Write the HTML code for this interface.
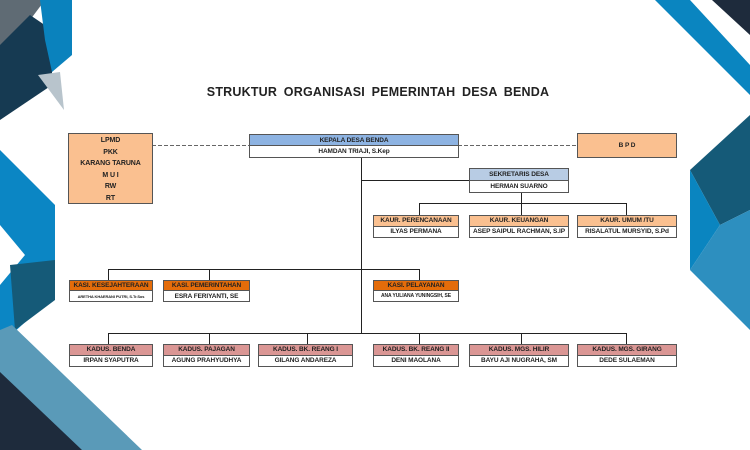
<!DOCTYPE html>
<html><head><meta charset="utf-8"><style>
*{margin:0;padding:0;box-sizing:border-box}
body{width:750px;height:450px;overflow:hidden;background:#fff;position:relative;font-family:"Liberation Sans",sans-serif}
svg{position:absolute;left:0;top:0}
.b{position:absolute;border:1px solid #555;font-weight:bold;font-size:6.5px;color:#222;text-align:center;letter-spacing:-0.1px}
.b div{height:50%;display:flex;align-items:center;justify-content:center;white-space:nowrap;overflow:hidden}
.b div:first-child{border-bottom:1px solid #555}
.t{position:absolute;left:150px;width:456px;top:85px;text-align:center;font-weight:bold;font-size:12.5px;color:#222;word-spacing:3px;letter-spacing:0.2px}
</style></head><body>
<svg width="750" height="450">
<!-- top-left -->
<polygon points="0,0 45,0 0,60" fill="#5f6b74"/>
<polygon points="0,45 30,15 52,30 52,85 0,120" fill="#163a52"/>
<polygon points="40,0 72,0 72,55 52,72 45,40" fill="#0a82bd"/>
<polygon points="38,75 60,72 64,110" fill="#b8c4cc"/>
<!-- left mid -->
<polygon points="0,150 55,205 55,295 0,345" fill="#0b86c4"/>
<polygon points="0,225 25,255 0,285" fill="#fff"/>
<polygon points="10,265 55,260 55,300 15,330" fill="#155a78"/>
<!-- bottom-left -->
<polygon points="0,330 12,325 142,450 80,450 0,378" fill="#5a9ab8"/>
<polygon points="0,372 0,450 82,450" fill="#1e2b3c"/>
<!-- top-right -->
<polygon points="655,0 690,0 750,65 750,95" fill="#0a85c0"/>
<polygon points="712,0 750,0 750,35" fill="#1e2b3c"/>
<!-- right mid -->
<polygon points="690,170 750,115 750,210 720,225" fill="#155a78"/>
<polygon points="690,170 720,225 690,270" fill="#0a85c0"/>
<polygon points="720,225 750,210 750,330 690,270" fill="#2d8fbf"/>
<!-- lines -->
<g stroke="#666" stroke-width="1" stroke-dasharray="4,2">
<line x1="152" y1="145.5" x2="249" y2="145.5"/><line x1="458" y1="145.5" x2="577" y2="145.5"/>
</g>
<g stroke="#222" stroke-width="1" fill="none">
<line x1="361.5" y1="157" x2="361.5" y2="333"/>
<line x1="361" y1="180.5" x2="469" y2="180.5"/>
<line x1="521.5" y1="192" x2="521.5" y2="215"/>
<polyline points="419.5,215 419.5,203.5 626.5,203.5 626.5,215"/>
<polyline points="108.5,280 108.5,269.5 419.5,269.5 419.5,280"/>
<line x1="209.5" y1="269" x2="209.5" y2="280"/>
<polyline points="108.5,344 108.5,333.5 626.5,333.5 626.5,344"/>
<line x1="209.5" y1="333" x2="209.5" y2="344"/><line x1="307.5" y1="333" x2="307.5" y2="344"/>
<line x1="419.5" y1="333" x2="419.5" y2="344"/><line x1="521.5" y1="333" x2="521.5" y2="344"/>
</g>
</svg>
<div class="t">STRUKTUR ORGANISASI PEMERINTAH DESA BENDA</div>
<div class="b" style="left:68px;top:133px;width:85px;height:71px;background:#fac090;font-size:7px;line-height:11.6px;padding-top:1px">LPMD<br>PKK<br>KARANG TARUNA<br>M U I<br>RW<br>RT</div>
<div class="b" style="left:249px;top:134px;width:210px;height:24px;background:#fff"><div style="background:#8db3e2">KEPALA DESA BENDA</div><div>HAMDAN TRIAJI, S.Kep</div></div>
<div class="b" style="left:577px;top:133px;width:100px;height:25px;background:#fac090;display:flex;align-items:center;justify-content:center">B P D</div>
<div class="b" style="left:469px;top:168px;width:100px;height:25px;background:#fff"><div style="background:#b8cce4">SEKRETARIS DESA</div><div>HERMAN SUARNO</div></div>
<div class="b" style="left:373px;top:215px;width:86px;height:23px"><div style="background:#fac090">KAUR. PERENCANAAN</div><div style="background:#fff">ILYAS PERMANA</div></div>
<div class="b" style="left:469px;top:215px;width:100px;height:23px"><div style="background:#fac090">KAUR. KEUANGAN</div><div style="background:#fff">ASEP SAIPUL RACHMAN, S.IP</div></div>
<div class="b" style="left:577px;top:215px;width:100px;height:23px"><div style="background:#fac090">KAUR. UMUM /TU</div><div style="background:#fff">RISALATUL MURSYID, S.Pd</div></div>
<div class="b" style="left:69px;top:280px;width:84px;height:22px"><div style="background:#e46c0a">KASI. KESEJAHTERAAN</div><div style="background:#fff;font-size:4px">ARETHA KHAERANI PUTRI, S.Tr.Sos</div></div>
<div class="b" style="left:163px;top:280px;width:87px;height:22px"><div style="background:#e46c0a">KASI. PEMERINTAHAN</div><div style="background:#fff">ESRA FERIYANTI, SE</div></div>
<div class="b" style="left:373px;top:280px;width:86px;height:22px"><div style="background:#e46c0a">KASI. PELAYANAN</div><div style="background:#fff;font-size:5px">ANA YULIANA YUNINGSIH, SE</div></div>
<div class="b" style="left:69px;top:344px;width:84px;height:23px"><div style="background:#da9694">KADUS. BENDA</div><div style="background:#fff">IRPAN SYAPUTRA</div></div>
<div class="b" style="left:163px;top:344px;width:87px;height:23px"><div style="background:#da9694">KADUS. PAJAGAN</div><div style="background:#fff">AGUNG PRAHYUDHYA</div></div>
<div class="b" style="left:258px;top:344px;width:95px;height:23px"><div style="background:#da9694">KADUS. BK. REANG I</div><div style="background:#fff">GILANG ANDAREZA</div></div>
<div class="b" style="left:373px;top:344px;width:86px;height:23px"><div style="background:#da9694">KADUS. BK. REANG II</div><div style="background:#fff">DENI MAOLANA</div></div>
<div class="b" style="left:469px;top:344px;width:100px;height:23px"><div style="background:#da9694">KADUS. MGS. HILIR</div><div style="background:#fff">BAYU AJI NUGRAHA, SM</div></div>
<div class="b" style="left:577px;top:344px;width:100px;height:23px"><div style="background:#da9694">KADUS. MGS. GIRANG</div><div style="background:#fff">DEDE SULAEMAN</div></div>
</body></html>
